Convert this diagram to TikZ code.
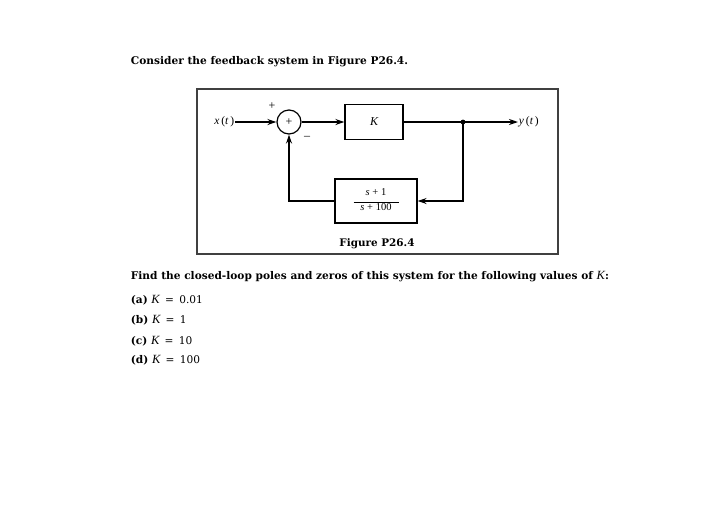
\documentclass[tikz,border=0pt]{standalone}
\usepackage{fontspec}
\setmainfont{DejaVu Serif}
\newfontfamily\tms{Liberation Serif}
\usetikzlibrary{arrows.meta}
\newcommand\kk{{\tms\itshape\mdseries\fontsize{12.5}{13}\selectfont K}}
\begin{document}
\begin{tikzpicture}[x=1pt,y=-1pt,
  line width=1.8pt,
  >={Stealth[length=9pt,width=6pt]},
  txt/.style={anchor=base west, inner sep=0pt, font=\fontsize{10.6}{12}\selectfont\bfseries},
  blk/.style={draw, line width=1.2pt, inner sep=0pt},
  lbl/.style={inner sep=0pt, font=\tms\fontsize{11.5}{12}\selectfont}]
\useasboundingbox[fill=white] (0,0) rectangle (713,520);
% text
\node[txt] (t1) at (130,64) {Consider the feedback system in Figure P26.4.};
\node[txt] (t2) at (130,279) {Find the closed-loop poles and zeros of this system for the following values of \kk:};
\node[txt] (qa) at (130,303) {(a) \kk\mdseries\enspace=\enspace0.01};
\node[txt] (qb) at (130,323) {(b) \kk\mdseries\enspace=\enspace1};
\node[txt] (qc) at (130,344) {(c) \kk\mdseries\enspace=\enspace10};
\node[txt] (qd) at (130,363) {(d) \kk\mdseries\enspace=\enspace100};
% frame
\draw[line width=1.1pt, black!75] (197,89) rectangle (558,254);
% blocks
\node[circle, draw, line width=1.2pt, minimum size=24pt, inner sep=0pt, font=\tms\fontsize{12}{12}\selectfont] (sum) at (289,122) {+};
\node[blk, minimum width=58pt, minimum height=35pt, font=\tms\itshape\fontsize{12}{12}\selectfont] (K) at (374,122) {K};
\node[blk, minimum width=82pt, minimum height=44pt, font=\tms\fontsize{10.5}{11}\selectfont] (H) at (376,201)
  {\begin{tabular}{@{}c@{}}\itshape s\upshape\ + 1\\[-4pt]\rule{45pt}{0.7pt}\\[-3pt]\itshape s\upshape\ + 100\end{tabular}};
\node[lbl, anchor=east] (x) at (235,122) {\itshape x\,\upshape(\itshape t\,\upshape)};
\node[lbl, anchor=west] (y) at (518,122) {\itshape y\,\upshape(\itshape t\,\upshape)};
\node[lbl, font=\tms\fontsize{12}{12}\selectfont] (plus) at (272,106) {+};
\node[lbl, font=\tms\fontsize{12}{12}\selectfont] (minus) at (307,138) {\textendash};
\node[inner sep=0pt, font=\fontsize{10.4}{11}\selectfont\bfseries] (cap) at (377,244) {Figure P26.4};
\coordinate (j) at (463,122);
% connectors
\draw[->] (x) -- (sum.west);
\draw[->] (sum.east) -- (K.west);
\draw[->] (K.east) -- (j) -- (y.west);
\fill (j) circle (2.4pt);
\draw[->] (j) |- (H.east);
\draw[->] (H.west) -| (sum.south);
\end{tikzpicture}
\end{document}
